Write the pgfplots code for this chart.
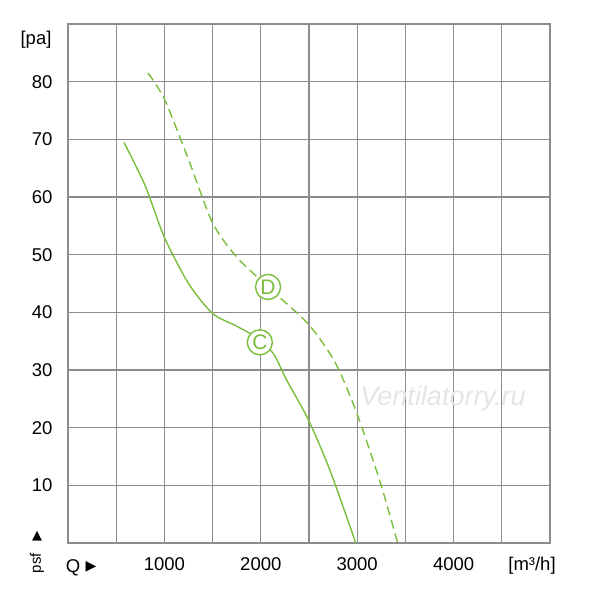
\documentclass[border=0pt]{standalone}
\usepackage{pgfplots}
\pgfplotsset{compat=1.18}
\usepackage{fontspec}
\setmainfont{Liberation Sans}
\newfontfamily\symfont{DejaVu Sans}
\definecolor{gridgray}{RGB}{140,140,140}
\definecolor{curvegreen}{RGB}{122,190,60}
\begin{document}
\begin{tikzpicture}[x=1pt,y=1pt]
\path[use as bounding box] (0,0) rectangle (600,600);
\begin{axis}[
  at={(68pt,57pt)}, anchor=south west,
  scale only axis, width=482pt, height=519pt,
  xmin=0, xmax=5000, ymin=0, ymax=90,
  xtick={0,500,...,5000}, ytick={0,10,...,90},
  xticklabels={,,1000,,2000,,3000,,4000,,},
  yticklabels={,10,20,30,40,50,60,70,80,},
  grid=major,
  major grid style={gridgray, line width=1.1pt},
  axis line style={gridgray, line width=1.3pt},
  tick style={draw=none},
  /pgf/number format/assume math mode=true,
  tick label style={font=\fontsize{18.5}{20}\selectfont},
  xticklabel style={yshift=-11pt},
  yticklabel style={xshift=-12pt},
  clip=false,
]
\addplot[curvegreen, line width=1.4pt, smooth, tension=0.45] coordinates {
 (580,69.5) (800,62) (1000,53) (1250,45) (1500,39.8) (1750,37.6) (1990,35.3) (2140,32.6) (2270,28.2) (2490,21.5) (2720,12.5) (2985,0)};
\addplot[curvegreen, line width=1.4pt, dash pattern=on 9pt off 5pt, smooth, tension=0.45] coordinates {
 (830,81.5) (1000,77) (1250,66.5) (1500,55.5) (1750,49.6) (2075,44.4) (2490,38) (2765,31.5) (2985,23) (3230,11) (3420,0)};
\node[circle, draw=curvegreen, fill=white, line width=1.4pt, inner sep=0pt, minimum size=25pt, text=curvegreen, font=\fontsize{21}{23}\selectfont] at (axis cs:1990,34.8) {C};
\node[circle, draw=curvegreen, fill=white, line width=1.4pt, inner sep=0pt, minimum size=25pt, text=curvegreen, font=\fontsize{21}{23}\selectfont] at (axis cs:2075,44.4) {D};
\node[text=gray!20, font=\itshape\fontsize{27}{29}\selectfont] at (axis cs:3890,25.1) {Ventilatorry.ru};
\end{axis}
\node[font=\fontsize{18.5}{20}\selectfont] at (36,560) {[pa]};
\node[font=\fontsize{18.5}{20}\selectfont] at (532,34) {[m³/h]};
\node[font=\fontsize{18.5}{20}\selectfont] at (73,32) {Q};
\node[font=\symfont\fontsize{14}{16}\selectfont] at (91,33) {▶};
\node[font=\symfont\fontsize{13}{15}\selectfont] at (37,64) {▲};
\node[font=\fontsize{15}{17}\selectfont, rotate=90] at (37,37) {psf};
\end{tikzpicture}
\end{document}
